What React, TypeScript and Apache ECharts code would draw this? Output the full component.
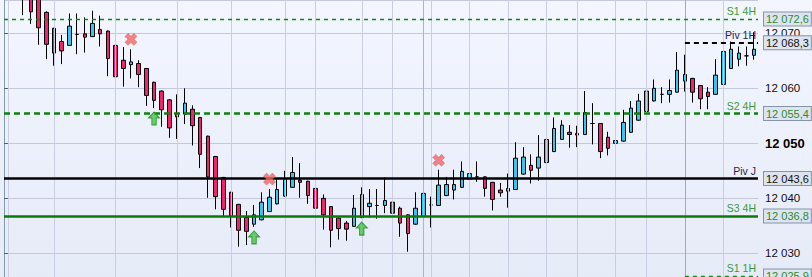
import React, { useEffect, useRef } from 'react';
import * as echarts from 'echarts';

// ---------- data ----------
const categories = Array.from({ length: 98 }, (_, i) => `bar ${i + 1}`);
const LEAD_EMPTY = 2; // first bars are off chart

const opens = [
  12080, 12078, 12077, 12073.8, 12070.9, 12068.5, 12067.8, 12069.8, 12069.9, 12069.4,
  12070.7, 12070.4, 12067.8, 12065.1, 12064.3, 12064.5, 12063.6, 12061.1, 12059.5, 12057.9,
  12055.5, 12055.3, 12056.2, 12054.7, 12051.3, 12047.6, 12043.8, 12041.1, 12038.9, 12036.5,
  12035.3, 12036.1, 12037.6, 12039.0, 12040.4, 12042.0, 12043.3, 12043.1, 12041.8, 12040.0,
  12038.5, 12036.4, 12035.5, 12034.9, 12036.5, 12038.5, 12038.7, 12038.7, 12039.3, 12038.2,
  12037.0, 12035.3, 12036.7, 12038.8, 12038.7, 12040.5, 12041.5, 12042.0, 12043.5, 12043.9,
  12043.9, 12042.9, 12041.5, 12041.3, 12041.6, 12044.4, 12046.0, 12045.5, 12046.5, 12048.5,
  12050.7, 12052.0, 12051.8, 12051.6, 12053.6, 12053.6, 12051.1, 12050.0, 12050.4, 12052.0,
  12054.2, 12055.8, 12057.7, 12058.9, 12058.9, 12059.3, 12061.3, 12061.8, 12060.5, 12059.3,
  12058.9, 12060.7, 12063.6, 12065.3, 12065.9, 12066.0,
];
const closes = [
  12077, 12073.9, 12071.0, 12068.0, 12066.4, 12066.8, 12071.3, 12069.8, 12069.3, 12071.8,
  12069.9, 12065.4, 12062.1, 12063.6, 12064.8, 12062.5, 12058.7, 12057.8, 12056.1, 12052.8,
  12054.8, 12057.3, 12053.2, 12048.0, 12043.9, 12040.3, 12038.0, 12036.8, 12034.2, 12034.0,
  12037.0, 12039.3, 12040.2, 12041.6, 12043.6, 12044.7, 12042.9, 12040.5, 12038.2, 12037.0,
  12034.2, 12034.5, 12034.4, 12038.2, 12040.7, 12039.1, 12038.7, 12039.6, 12037.3, 12035.5,
  12033.6, 12038.2, 12040.9, 12038.8, 12042.4, 12042.5, 12042.5, 12044.9, 12044.5, 12043.9,
  12041.8, 12039.8, 12041.0, 12041.8, 12047.3, 12047.5, 12045.1, 12047.5, 12050.7, 12052.7,
  12053.3, 12051.6, 12051.5, 12055.6, 12053.6, 12048.5, 12049.1, 12050.5, 12053.8, 12056.4,
  12057.7, 12059.5, 12060.0, 12058.9, 12059.6, 12063.3, 12062.5, 12059.3, 12058.1, 12058.5,
  12062.4, 12066.7, 12067.1, 12066.4, 12065.9, 12067.1,
];
const lows = [
  12073.3, 12071.7, 12067.9, 12065.3, 12064.1, 12064.4, 12067.7, 12066.2, 12066.5, 12069.3,
  12067.6, 12062.2, 12060.8, 12060.3, 12061.8, 12060.2, 12056.8, 12056.4, 12053.0, 12051.0,
  12050.8, 12053.5, 12049.6, 12045.5, 12040.1, 12038.0, 12036.7, 12034.7, 12031.2, 12031.5,
  12034.8, 12036.0, 12037.5, 12038.9, 12040.3, 12041.9, 12040.1, 12039.0, 12035.3, 12034.3,
  12031.1, 12032.5, 12032.3, 12034.8, 12036.4, 12036.5, 12036.3, 12037.3, 12035.6, 12033.0,
  12030.3, 12035.2, 12036.6, 12034.7, 12038.6, 12040.4, 12039.8, 12041.9, 12042.1, 12043.0,
  12040.3, 12037.8, 12040.3, 12038.3, 12041.5, 12044.3, 12042.7, 12043.2, 12046.4, 12048.4,
  12050.6, 12049.2, 12049.3, 12051.5, 12049.8, 12047.3, 12047.8, 12048.5, 12050.3, 12051.9,
  12054.1, 12055.7, 12057.6, 12057.3, 12057.4, 12059.2, 12059.4, 12057.4, 12056.2, 12056.2,
  12058.8, 12060.6, 12063.5, 12064.0, 12064.1, 12065.2,
];
const highs = [
  12081, 12079, 12078, 12074.0, 12071.0, 12069.7, 12073.6, 12073.6, 12072.9, 12074.1,
  12073.2, 12070.5, 12067.9, 12067.5, 12067.1, 12065.1, 12063.7, 12061.2, 12059.6, 12058.0,
  12058.9, 12060.0, 12056.9, 12054.8, 12051.4, 12047.7, 12043.9, 12041.2, 12039.0, 12037.7,
  12038.8, 12041.1, 12041.7, 12043.5, 12045.0, 12047.5, 12046.4, 12043.2, 12041.9, 12040.7,
  12038.6, 12036.5, 12035.9, 12040.6, 12042.0, 12041.7, 12041.7, 12043.8, 12039.4, 12038.5,
  12037.1, 12041.1, 12043.0, 12040.3, 12045.2, 12043.9, 12045.2, 12046.7, 12046.7, 12046.7,
  12044.0, 12043.0, 12042.8, 12044.5, 12050.2, 12049.3, 12048.0, 12051.5, 12052.2, 12054.7,
  12054.2, 12053.3, 12053.2, 12059.5, 12057.3, 12053.7, 12052.1, 12053.2, 12056.1, 12057.7,
  12059.0, 12061.3, 12061.6, 12060.2, 12061.6, 12066.6, 12066.1, 12061.9, 12060.6, 12060.2,
  12065.3, 12068.9, 12068.5, 12067.6, 12067.6, 12070.2,
];

const levelNames = ['S1 4H', 'Piv 1H', 'S2 4H', 'Piv J', 'S3 4H', 'S1 1H'];
const levelValues = [12072.6, 12068.3, 12055.4, 12043.6, 12036.8, 12025.9];
const levelStartBars = [0, 88, 0, 0, 0, 88];

const sessionBars = [0, 6, 14, 22, 29, 36, 40, 46, 50, 55, 60, 65, 70, 74, 79, 83, 88, 93];
const majorSessionBar = 88;
const cursorBar = 54;

const sellBars = [16, 34, 56];
const sellPrices = [12068.9, 12043.5, 12046.9];
const buyBars = [19, 32, 46];
const buyPrices = [12054.5, 12032.9, 12034.5];

const yMin = 12025.7;
const yMax = 12076.05;
const boldTick = 12050;

// ---------- styles ----------
const FONT = '"Liberation Sans", Arial, sans-serif';
const GREEN_TXT = '#3a9a3a';
const NAVY_TXT = '#1e2850';
const levelStyles = [
  { color: '#009000', width: 1.4, type: [4, 4], txt: GREEN_TXT, box: '#2f8a2f' },
  { color: '#000000', width: 2, type: [5, 4], txt: NAVY_TXT, box: '#111111' },
  { color: '#0d830d', width: 2.5, type: [6, 4], txt: GREEN_TXT, box: '#2f8a2f' },
  { color: '#000000', width: 2.5, type: 'solid', txt: NAVY_TXT, box: '#111111' },
  { color: '#0a7a0a', width: 2.5, type: 'solid', txt: GREEN_TXT, box: '#2f8a2f' },
  { color: '#009000', width: 1.4, type: [4, 4], txt: GREEN_TXT, box: '#2f8a2f' },
];

const fmtAxis = (v: number) => {
  const s = String(Math.round(v));
  return s.slice(0, s.length - 3) + ' ' + s.slice(-3);
};
const fmtLevel = (v: number) => {
  const [i, d] = v.toFixed(1).split('.');
  return i.slice(0, i.length - 3) + ' ' + i.slice(-3) + ',' + d;
};

const X_PATH =
  'path://M0,2.6 L2.6,0 L5,2.4 L7.4,0 L10,2.6 L7.6,5 L10,7.4 L7.4,10 L5,7.6 L2.6,10 L0,7.4 L2.4,5 Z';
const ARROW_PATH = 'path://M5,0 L10,5.5 L7,5.5 L7,12 L3,12 L3,5.5 L0,5.5 Z';

export default function App() {
  const ref = useRef<HTMLDivElement>(null);

  useEffect(() => {
    if (!ref.current) return;
    const chart = echarts.init(ref.current, undefined, { renderer: 'svg' });

    const candleData = categories.map((_, i) =>
      i < LEAD_EMPTY
        ? '-'
        : [opens[i - LEAD_EMPTY], closes[i - LEAD_EMPTY], lows[i - LEAD_EMPTY], highs[i - LEAD_EMPTY]]
    );

    const nBars = categories.length;

    const levelLines: any[] = [];
    const levelNameLines: any[] = [];
    levelValues.forEach((v, k) => {
      const st = levelStyles[k];
      const start = levelStartBars[k] === 0 ? 0 : levelStartBars[k] + 0.5;
      levelLines.push([
        {
          coord: [start, v],
          lineStyle: { color: st.color, width: st.width, type: st.type },
          label: {
            show: true,
            position: 'end',
            distance: 6,
            formatter: fmtLevel(v),
            fontFamily: FONT,
            fontSize: 11,
            lineHeight: 11,
            color: st.box,
            backgroundColor: '#dde4ee',
            borderColor: '#8494aa',
            borderWidth: 1,
            padding: [2, 2, 0, 2],
          },
        },
        { coord: [nBars, v] },
      ]);
      levelNameLines.push([
        {
          coord: [start, v],
          lineStyle: { color: 'rgba(0,0,0,0)', width: 1 },
          label: {
            show: true,
            position: 'insideEndTop',
            distance: [2, 2],
            formatter: levelNames[k],
            fontFamily: FONT,
            fontSize: 10.5,
            color: st.txt,
          },
        },
        { coord: [nBars, v] },
      ]);
    });

    const option: any = {
      animation: false,
      backgroundColor: 'transparent',
      grid: { left: 4, right: 54, top: 0, bottom: 0, containLabel: false },
      xAxis: [
        {
          type: 'category',
          data: categories,
          boundaryGap: true,
          axisLine: { show: false },
          axisTick: { show: false },
          axisLabel: { show: false },
          splitLine: { show: false },
        },
        {
          type: 'value',
          min: 0,
          max: nBars,
          show: false,
          splitLine: { show: false },
        },
      ],
      yAxis: {
        type: 'value',
        position: 'right',
        min: yMin,
        max: yMax,
        splitNumber: 5,
        axisLine: { show: true, lineStyle: { color: '#8898ae', width: 1 } },
        axisTick: { show: true, length: 4, lineStyle: { color: '#55606e' } },
        splitLine: { show: true, lineStyle: { color: '#c3c8da', width: 1 } },
        axisLabel: {
          show: true,
          margin: 7,
          fontFamily: FONT,
          fontSize: 11.5,
          color: '#111111',
          showMinLabel: false,
          showMaxLabel: false,
          formatter: (v: number) =>
            Math.abs(v - boldTick) < 0.01 ? `{b|${fmtAxis(v)}}` : fmtAxis(v),
          rich: {
            b: { fontFamily: FONT, fontSize: 13, fontWeight: 'bold', color: '#000000' },
          },
        },
      },
      series: [
        {
          type: 'line',
          xAxisIndex: 1,
          yAxisIndex: 0,
          data: [],
          silent: true,
          z: 1,
          markLine: {
            silent: true,
            symbol: 'none',
            animation: false,
            label: { show: false },
            data: sessionBars.map((b) => ({
              xAxis: b + 0.5,
              lineStyle: {
                color: b === majorSessionBar ? '#a2aabd' : '#c9cee0',
                width: 1,
                type: 'solid',
              },
            })),
          },
        },
        {
          type: 'candlestick',
          xAxisIndex: 0,
          yAxisIndex: 0,
          data: candleData,
          barWidth: 4,
          clip: true,
          z: 3,
          itemStyle: {
            color: '#36c6f0',
            color0: '#f5206f',
            borderColor: '#000000',
            borderColor0: '#000000',
            borderColorDoji: '#000000',
            borderWidth: 1,
          },
        },
        {
          type: 'line',
          xAxisIndex: 1,
          yAxisIndex: 0,
          data: [],
          silent: true,
          z: 5,
          markLine: {
            silent: true,
            symbol: 'none',
            animation: false,
            data: [
              {
                xAxis: cursorBar + 0.5,
                lineStyle: { color: '#ee9aa2', width: 1, type: 'solid' },
                label: { show: false },
              },
              ...levelLines,
            ],
          },
        },
        {
          type: 'line',
          xAxisIndex: 1,
          yAxisIndex: 0,
          data: [],
          silent: true,
          z: 5,
          markLine: {
            silent: true,
            symbol: 'none',
            animation: false,
            data: levelNameLines,
          },
        },
        {
          type: 'scatter',
          xAxisIndex: 0,
          yAxisIndex: 0,
          z: 6,
          symbol: X_PATH,
          symbolSize: 12,
          itemStyle: { color: '#f06666', borderColor: '#c43a3a', borderWidth: 0.8, borderType: 'dotted' },
          data: sellBars.map((b, i) => [b, sellPrices[i]]),
        },
        {
          type: 'scatter',
          xAxisIndex: 0,
          yAxisIndex: 0,
          z: 6,
          symbol: ARROW_PATH,
          symbolSize: [11, 13],
          itemStyle: { color: '#45c445', borderColor: '#1b8a1b', borderWidth: 1 },
          data: buyBars.map((b, i) => [b, buyPrices[i]]),
        },
      ],
    };

    chart.setOption(option);
    return () => chart.dispose();
  }, []);

  return (
    <div
      style={{
        position: 'fixed',
        left: 0,
        top: 0,
        width: 812,
        height: 277,
        background: 'linear-gradient(#f3f6ff, #e6ebf8)',
      }}
    >
      <div ref={ref} style={{ width: 812, height: 277 }} />
    </div>
  );
}
